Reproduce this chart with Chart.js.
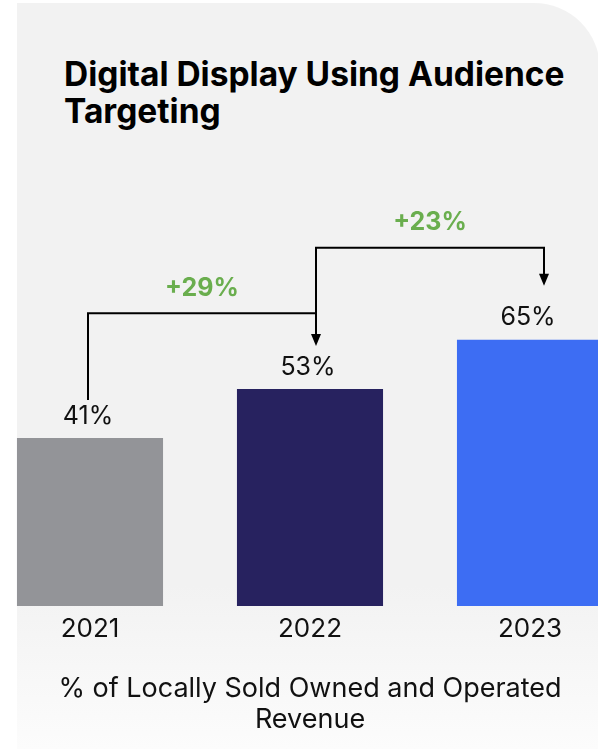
<!DOCTYPE html>
<html lang="en">
<head>
<meta charset="UTF-8">
<title>Digital Display Using Audience Targeting</title>
<style>
    html, body { margin: 0; padding: 0; background: #fff; }
    #wrap { position: relative; width: 598px; height: 749px; overflow: hidden; background: #fff; }
    #card {
        position: absolute; left: 17px; top: 3px; width: 583px; height: 746px;
        background: linear-gradient(to bottom, #f2f2f2 0%, #f2f2f2 78%, #fcfcfc 100%);
        border-top-right-radius: 66px;
    }
    #title {
        position: absolute; left: 64px; top: 56px; margin: 0;
        font-family: Inter, "Open Sans", sans-serif; font-weight: 700;
        font-size: 33.5px; line-height: 37px; color: #000;
    }
    #chart { position: absolute; left: -20px; top: 0; }
</style>
</head>
<body>
<div id="wrap">
    <div id="card"></div>
    <h2 id="title">Digital Display Using Audience<br>Targeting</h2>
    <canvas id="chart" width="660" height="749"></canvas>
</div>
<script src="https://cdn.jsdelivr.net/npm/chart.js@4.4.0/dist/chart.umd.min.js"></script>
<script>
    var years = ["2021", "2022", "2023"];
    var shares = [41, 53, 65];
    var barColors = ["#939498", "#27225f", "#3d6df3"];
    var caption = ["% of Locally Sold Owned and Operated", "Revenue"];

    var textFont = "Inter, 'Open Sans', sans-serif";

    // value labels above the bars
    var valueLabels = {
        id: "valueLabels",
        afterDatasetsDraw: function (chart) {
            var ctx = chart.ctx;
            var bars = chart.getDatasetMeta(0).data;
            ctx.save();
            ctx.font = "400 25px " + textFont;
            ctx.fillStyle = "#111";
            ctx.textAlign = "center";
            ctx.textBaseline = "middle";
            bars.forEach(function (bar, i) {
                ctx.fillText(shares[i] + "%", bar.x - 2, bar.y - 22);
            });
            ctx.restore();
        }
    };

    // elbow arrows between consecutive years with the growth rate
    var growthArrows = {
        id: "growthArrows",
        afterDatasetsDraw: function (chart) {
            var ctx = chart.ctx;
            var bars = chart.getDatasetMeta(0).data;
            var y = chart.scales.y;
            var levels = [71.5, 87.5];
            var startX = [bars[0].x - 2, bars[1].x + 6];
            var endX = [bars[1].x + 6, bars[2].x + 14];
            var startY = [bars[0].y - 38, y.getPixelForValue(levels[0])];
            var tipY = [bars[1].y - 43, bars[2].y - 54];

            ctx.save();
            ctx.lineWidth = 2;
            for (var i = 0; i < 2; i++) {
                var ly = y.getPixelForValue(levels[i]);
                ctx.strokeStyle = "#000";
                ctx.fillStyle = "#000";
                ctx.beginPath();
                ctx.moveTo(startX[i], startY[i]);
                ctx.lineTo(startX[i], ly);
                ctx.lineTo(endX[i], ly);
                ctx.lineTo(endX[i], tipY[i] - 10);
                ctx.stroke();
                ctx.beginPath();
                ctx.moveTo(endX[i] - 5, tipY[i] - 12);
                ctx.lineTo(endX[i] + 5, tipY[i] - 12);
                ctx.lineTo(endX[i], tipY[i]);
                ctx.closePath();
                ctx.fill();

                var growth = Math.round((shares[i + 1] - shares[i]) / shares[i] * 100);
                ctx.font = "700 25px " + textFont;
                ctx.fillStyle = "#6aae4e";
                ctx.textAlign = "center";
                ctx.textBaseline = "middle";
                ctx.fillText("+" + growth + "%", (startX[i] + endX[i]) / 2, ly - 25);
            }
            ctx.restore();
        }
    };

    new Chart(document.getElementById("chart"), {
        type: "bar",
        data: {
            labels: years,
            datasets: [{
                data: shares,
                backgroundColor: barColors,
                borderWidth: 0,
                barPercentage: 0.664,
                categoryPercentage: 1
            }]
        },
        options: {
            responsive: false,
            animation: false,
            devicePixelRatio: 1,
            layout: { padding: 0 },
            plugins: {
                legend: { display: false },
                tooltip: { enabled: false },
                title: { display: false }
            },
            scales: {
                x: {
                    grid: { display: false, drawTicks: false },
                    border: { display: false },
                    ticks: {
                        padding: 8,
                        color: "#111",
                        font: { family: textFont, size: 26, weight: "400" }
                    },
                    title: {
                        display: true,
                        text: caption,
                        color: "#111",
                        padding: { top: 0, bottom: 14 },
                        font: { family: textFont, size: 27, weight: "400", lineHeight: 31 / 27 }
                    },
                    afterFit: function (scale) { scale.height = 143; }
                },
                y: {
                    display: false,
                    min: 0,
                    max: 148
                }
            }
        },
        plugins: [valueLabels, growthArrows]
    });
</script>
</body>
</html>
